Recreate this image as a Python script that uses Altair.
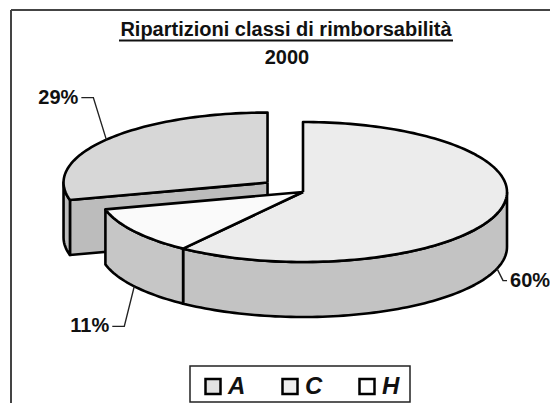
import altair as alt
import numpy as np
import pandas as pd

# ---------------- data ----------------
categories = ["A", "C", "H"]
values = [60, 11, 29]
title_line1 = "Ripartizioni classi di rimborsabilità"
title_line2 = "2000"

# ---------------- styles ----------------
FONT = "Liberation Sans"
top_fill = {"A": "#ececec", "C": "#fafafa", "H": "#d7d7d7"}
wall_fill = {"A": "#c3c3c3", "C": "#c6c6c6", "H": "#bcbcbc"}
swatch_fill = ["#e2e2e2", "#eeeeee", "#ffffff"]
explode = {"A": 0.0, "C": 0.0, "H": 0.22}

# ---------------- layout (view pixels; view origin at page (11,10)) ----------------
W, H = 539, 393
CX, CY = 292, 182
RX, RY = 204, 70
DEPTH = 55
START = 90.0
# elbow offset (dx, dy) from anchor, horizontal run
leader = {"A": (6, 12, 4), "C": (-10, 40, -12), "H": (-13, -42, -12)}
LEG_X0, LEG_STEP, LEG_Y = 202, 77, 376.5

# ---------------- geometry from values ----------------
total = float(sum(values))
slices = []
t = START
for cat, v in zip(categories, values):
    sweep = 360.0 * v / total
    t0, t1 = t, t - sweep
    mid = (t0 + t1) / 2
    e = explode[cat]
    slices.append({"cat": cat, "v": v, "t0": t0, "t1": t1, "mid": mid,
                   "ox": e * RX * np.cos(np.radians(mid)),
                   "oy": -e * RY * np.sin(np.radians(mid))})
    t = t1


def point(s, ang, z=0.0):
    r = np.radians(ang)
    return (CX + s["ox"] + RX * np.cos(r), CY + s["oy"] - RY * np.sin(r) + z)


def vertex(s, z=0.0):
    return (CX + s["ox"], CY + s["oy"] + z)


def arc(s, a, b, z=0.0):
    n = int(abs(a - b) / 1.5) + 2
    return [point(s, ang, z) for ang in np.linspace(a, b, n)]


polys = []
for s in sorted(slices, key=lambda s: -np.sin(np.radians(s["mid"]))):
    cat = s["cat"]
    if explode[cat] > 0:
        for ang, vis in ((s["t0"], np.cos(np.radians(s["t0"])) < -1e-6),
                         (s["t1"], np.cos(np.radians(s["t1"])) > 1e-6)):
            if vis:
                pts = [vertex(s), point(s, ang), point(s, ang, DEPTH), vertex(s, DEPTH)]
                polys.append((wall_fill[cat], pts + pts[:1]))
    for k in range(-2, 2):
        lo = max(s["t1"], -180 + 360 * k)
        hi = min(s["t0"], 360 * k)
        if hi - lo > 1e-6:
            pts = arc(s, hi, lo) + arc(s, lo, hi, DEPTH)
            polys.append((wall_fill[cat], pts + pts[:1]))
    pts = [vertex(s)] + arc(s, s["t0"], s["t1"]) + [vertex(s)]
    polys.append((top_fill[cat], pts))

poly_df = pd.DataFrame([{"pid": i, "k": j, "x": x, "y": y}
                        for i, (_, pts) in enumerate(polys)
                        for j, (x, y) in enumerate(pts)])

lead_rows, lab_rows = [], []
for s in slices:
    front = np.sin(np.radians(s["mid"])) < 0
    ax, ay = point(s, s["mid"], DEPTH if front else 0.0)
    dx, dy, run = leader[s["cat"]]
    ex, ey = ax + dx, ay + dy
    for k, (x, y) in enumerate([(ax, ay), (ex, ey), (ex + run, ey)]):
        lead_rows.append({"cat": s["cat"], "k": k, "x": x, "y": y})
    lab_rows.append({"cat": s["cat"], "x": ex + run + (3 if run > 0 else -3), "y": ey,
                     "label": f"{s['v']}%", "side": "r" if run > 0 else "l"})
lead_df = pd.DataFrame(lead_rows)
lab_df = pd.DataFrame(lab_rows)

leg_df = pd.DataFrame({"cat": categories,
                       "sx": [LEG_X0 + i * LEG_STEP for i in range(len(categories))]})
leg_df["tx"] = leg_df["sx"] + 15
leg_df["y"] = LEG_Y

xs = alt.Scale(domain=[0, W], nice=False, zero=False)
ys = alt.Scale(domain=[0, H], nice=False, zero=False, reverse=True)
X = lambda f: alt.X(f, scale=xs, axis=None)
Y = lambda f: alt.Y(f, scale=ys, axis=None)

layers = []
base = alt.Chart(poly_df)
for i, (f, _) in enumerate(polys):
    layers.append(
        base.transform_filter(alt.datum.pid == i)
        .mark_line(fill=f, stroke="#000000", strokeWidth=2.6, strokeJoin="round")
        .encode(x=X("x:Q"), y=Y("y:Q"), order="k:Q")
    )

layers.append(
    alt.Chart(lead_df).mark_line(stroke="#222222", strokeWidth=1.4)
    .encode(x=X("x:Q"), y=Y("y:Q"), detail="cat:N", order="k:Q")
)
for side, align in (("l", "right"), ("r", "left")):
    layers.append(
        alt.Chart(lab_df).transform_filter(alt.datum.side == side)
        .mark_text(font=FONT, fontSize=20, fontWeight="bold", align=align,
                   baseline="middle", color="#111111")
        .encode(x=X("x:Q"), y=Y("y:Q"), text="label:N")
    )

# title
title_df = pd.DataFrame({"t": [title_line1], "s": [title_line2]})
layers.append(
    alt.Chart(title_df).mark_text(font=FONT, fontSize=20, fontWeight="bold",
                                  align="center", baseline="alphabetic", color="#111111")
    .encode(x=alt.value(275), y=alt.value(26), text="t:N")
)
layers.append(
    alt.Chart(title_df).mark_rule(stroke="#111111", strokeWidth=2)
    .encode(x=alt.value(108), x2=alt.value(442), y=alt.value(30.5))
)
layers.append(
    alt.Chart(title_df).mark_text(font=FONT, fontSize=20, fontWeight="bold",
                                  align="center", baseline="alphabetic", color="#111111")
    .encode(x=alt.value(276), y=alt.value(54), text="s:N")
)

# frame (left and top edges; right and bottom lie outside the picture)
layers.append(
    alt.Chart(title_df).mark_rule(stroke="#444444", strokeWidth=2)
    .encode(x=alt.value(0), x2=alt.value(W), y=alt.value(0))
)
layers.append(
    alt.Chart(title_df).mark_rule(stroke="#444444", strokeWidth=2)
    .encode(x=alt.value(0), y=alt.value(0), y2=alt.value(H))
)

# legend
layers.append(
    alt.Chart(title_df).mark_rect(fill="#ffffff", stroke="#222222", strokeWidth=1.5)
    .encode(x=alt.value(179), x2=alt.value(399), y=alt.value(356), y2=alt.value(392))
)
layers.append(
    alt.Chart(leg_df).mark_square(size=225, stroke="#000000", strokeWidth=2.5, opacity=1)
    .encode(x=X("sx:Q"), y=Y("y:Q"),
            fill=alt.Fill("cat:N", scale=alt.Scale(domain=categories, range=swatch_fill),
                          legend=None))
)
layers.append(
    alt.Chart(leg_df).mark_text(font=FONT, fontSize=24, fontWeight="bold", fontStyle="italic",
                                align="left", baseline="middle", color="#111111")
    .encode(x=X("tx:Q"), y=Y("y:Q"), text="cat:N")
)

chart = alt.layer(*layers).properties(
    width=W, height=H,
    autosize=alt.AutoSizeParams(type="none"),
    padding={"left": 3, "top": 2, "right": 0, "bottom": 0},
    background="#ffffff",
).configure_view(stroke="transparent")

chart.save("out.html", embed_options={"renderer": "svg", "actions": False})
